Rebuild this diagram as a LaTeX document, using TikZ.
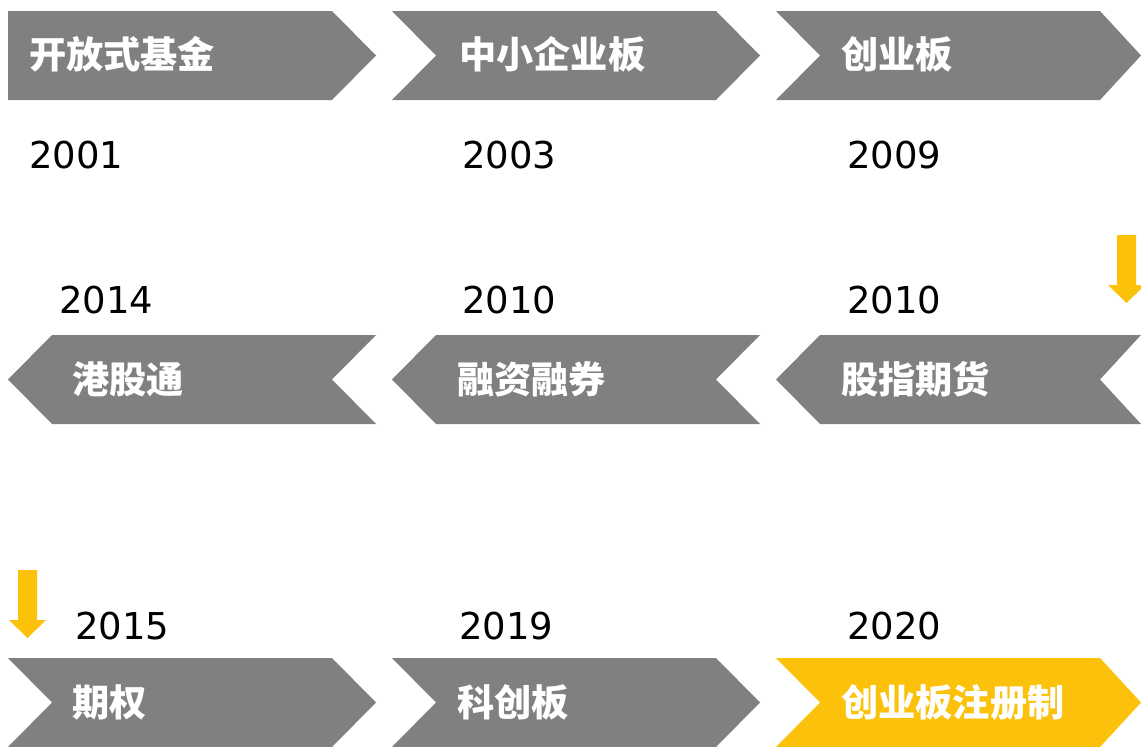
\documentclass[tikz,border=0pt]{standalone}
\usepackage{fontspec}
\setmainfont{DejaVu Sans}
\newfontfamily\cjk{Noto Sans CJK SC}
\definecolor{bandgray}{HTML}{808080}
\definecolor{bandyellow}{HTML}{FBC10B}
\tikzset{
  band/.style={fill=bandgray, draw=none},
  bandhi/.style={fill=bandyellow, draw=none},
  downarrow/.style={fill=bandyellow, draw=none},
  label/.style={anchor=west, inner sep=0pt, text=white, font=\cjk\bfseries\fontsize{37.2}{41}\selectfont},
  year/.style={anchor=base west, inner sep=0pt, text=black, font=\fontsize{37}{41}\selectfont},
}
\begin{document}
\begin{tikzpicture}[x=1pt, y=-1pt]
\useasboundingbox (0,0) rectangle (1141,747);
\clip (0,0) rectangle (1141,747);
% Row 1 (right-pointing)
\fill[band] (8,11) -- (332,11) -- (376,55.5) -- (332,100) -- (8,100) -- cycle;
\fill[band] (392,11) -- (716,11) -- (760,55.5) -- (716,100) -- (392,100) -- (436,55.5) -- cycle;
\fill[band] (776,11) -- (1100,11) -- (1141,55.5) -- (1100,100) -- (776,100) -- (820,55.5) -- cycle;
% Row 2 (left-pointing)
\fill[band] (8,379.5) -- (52,335) -- (376,335) -- (332,379.5) -- (376,424) -- (52,424) -- cycle;
\fill[band] (392,379.5) -- (436,335) -- (760,335) -- (716,379.5) -- (760,424) -- (436,424) -- cycle;
\fill[band] (776,379.5) -- (820,335) -- (1141,335) -- (1100,379.5) -- (1141,424) -- (820,424) -- cycle;
% Row 3 (right-pointing)
\fill[band] (8,658) -- (332,658) -- (376,702.5) -- (332,747) -- (8,747) -- (52,702.5) -- cycle;
\fill[band] (392,658) -- (716,658) -- (760,702.5) -- (716,747) -- (392,747) -- (436,702.5) -- cycle;
\fill[bandhi] (776,658) -- (1100,658) -- (1141,702.5) -- (1100,747) -- (776,747) -- (820,702.5) -- cycle;
% Down arrows
\fill[downarrow] (1117,235) -- (1136,235) -- (1136,285) -- (1145,285) -- (1126.5,303) -- (1108,285) -- (1117,285) -- cycle;
\fill[downarrow] (18,570) -- (37,570) -- (37,620) -- (46,620) -- (27.5,638) -- (9,620) -- (18,620) -- cycle;
% Labels
\node[label] (l1) at (29,54) {开放式基金};
\node[label] (l2) at (459,54) {中小企业板};
\node[label] (l3) at (841,54) {创业板};
\node[label] (l4) at (72,379) {港股通};
\node[label] (l5) at (457,379) {融资融券};
\node[label] (l6) at (841,379) {股指期货};
\node[label] (l7) at (72,702) {期权};
\node[label] (l8) at (457,702) {科创板};
\node[label] (l9) at (841,702) {创业板注册制};
% Years
\node[year] (y1) at (29,168) {2001};
\node[year] (y2) at (462,168) {2003};
\node[year] (y3) at (847,168) {2009};
\node[year] (y4) at (59,313) {2014};
\node[year] (y5) at (462,313) {2010};
\node[year] (y6) at (847,313) {2010};
\node[year] (y7) at (75,639) {2015};
\node[year] (y8) at (459,639) {2019};
\node[year] (y9) at (847,639) {2020};
\end{tikzpicture}
\end{document}
